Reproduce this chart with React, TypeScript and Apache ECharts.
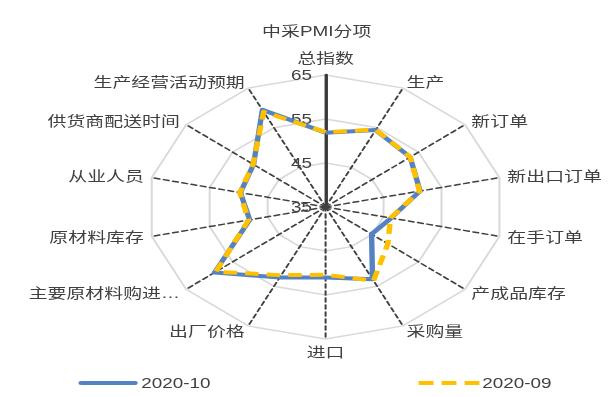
import React, { useEffect, useRef } from "react";
import * as echarts from "echarts";

// Indicators in clockwise order, starting at the top
const categories = [
  "总指数",
  "生产",
  "新订单",
  "新出口订单",
  "在手订单",
  "产成品库存",
  "采购量",
  "进口",
  "出厂价格",
  "主要原材料购进…",
  "原材料库存",
  "从业人员",
  "供货商配送时间",
  "生产经营活动预期",
];
const oct2020 = [51.9, 54.4, 53.2, 51.3, 46.3, 44.9, 53.2, 51.0, 52.8, 58.9, 48.1, 49.7, 50.5, 59.5];
const sep2020 = [52.0, 54.5, 53.2, 51.2, 46.2, 48.4, 53.6, 50.4, 52.2, 58.6, 48.3, 49.8, 50.6, 59.0];
const seriesNames = ["2020-10", "2020-09"];
const axisMin = 35;
const axisMax = 65;
const titleText = "中采PMI分项";

// The reference picture is stretched horizontally
const SCALE = 1.351;
const W = Math.round(612 / SCALE);
const H = 397;

// ECharts radar runs counter-clockwise; reorder so it reads clockwise
const toCCW = <T,>(arr: T[]): T[] => [arr[0], ...arr.slice(1).reverse()];

const FONT = "'Liberation Sans', 'Noto Sans CJK SC', sans-serif";
const TEXT = "#404040";
const BLUE = "#5582c2";
const YELLOW = "#ffc000";

const SOLID_ICON = "path://M2,0H42A2,2,0,0,1,42,4H2A2,2,0,0,1,2,0Z";
const DASH_ICON = "path://M0,0H11V4H0Z M17,0H28V4H17Z M34,0H45V4H34Z";

export default function App() {
  const ref = useRef<HTMLDivElement>(null);
  useEffect(() => {
    if (!ref.current) return;
    const chart = echarts.init(ref.current, null, { renderer: "svg" });
    const cats = toCCW(categories);
    const indicator = cats.map((name, i) =>
      i === 0
        ? {
            name,
            min: axisMin,
            max: axisMax,
            nameGap: 10,
            axisLabel: { show: true },
            axisLine: { lineStyle: { type: "solid", width: 2.5, color: "#3a3a3a" } },
          }
        : { name, min: axisMin, max: axisMax }
    );
    chart.setOption({
      animation: false,
      title: {
        text: titleText,
        left: 189,
        top: 19,
        textStyle: { fontSize: 14, fontWeight: "normal", color: TEXT, fontFamily: FONT },
      },
      legend: {
        data: [
          { name: seriesNames[0], icon: SOLID_ICON },
          { name: seriesNames[1], icon: DASH_ICON },
        ],
        left: 53,
        top: 371,
        itemWidth: 45,
        itemHeight: 4,
        itemGap: 154,
        textStyle: { fontSize: 14, color: TEXT, fontFamily: FONT, padding: [0, 0, 0, -3] },
      },
      radar: {
        center: [241, 207],
        radius: 132,
        startAngle: 90,
        splitNumber: 3,
        shape: "polygon",
        indicator,
        nameGap: 6,
        axisName: { color: TEXT, fontSize: 14, fontFamily: FONT },
        splitArea: { show: false },
        splitLine: { lineStyle: { color: "#d9d9d9", width: 1.5 } },
        axisLine: { lineStyle: { color: "#404040", width: 1.5, type: [4, 3] } },
        axisTick: { show: false },
        axisLabel: { show: false, fontSize: 14, color: TEXT, fontFamily: FONT, margin: 10 },
      },
      series: [
        {
          type: "radar",
          symbol: "none",
          data: [
            {
              name: seriesNames[0],
              value: toCCW(oct2020),
              lineStyle: { color: BLUE, width: 4 },
              itemStyle: { color: BLUE },
            },
            {
              name: seriesNames[1],
              value: toCCW(sep2020),
              lineStyle: { color: YELLOW, width: 4, type: [10, 6] },
              itemStyle: { color: YELLOW },
            },
          ],
        },
      ],
    });
    return () => chart.dispose();
  }, []);
  return (
    <div
      ref={ref}
      style={{
        position: "fixed",
        left: 0,
        top: 0,
        width: W,
        height: H,
        transform: `scaleX(${SCALE})`,
        transformOrigin: "0 0",
      }}
    />
  );
}
